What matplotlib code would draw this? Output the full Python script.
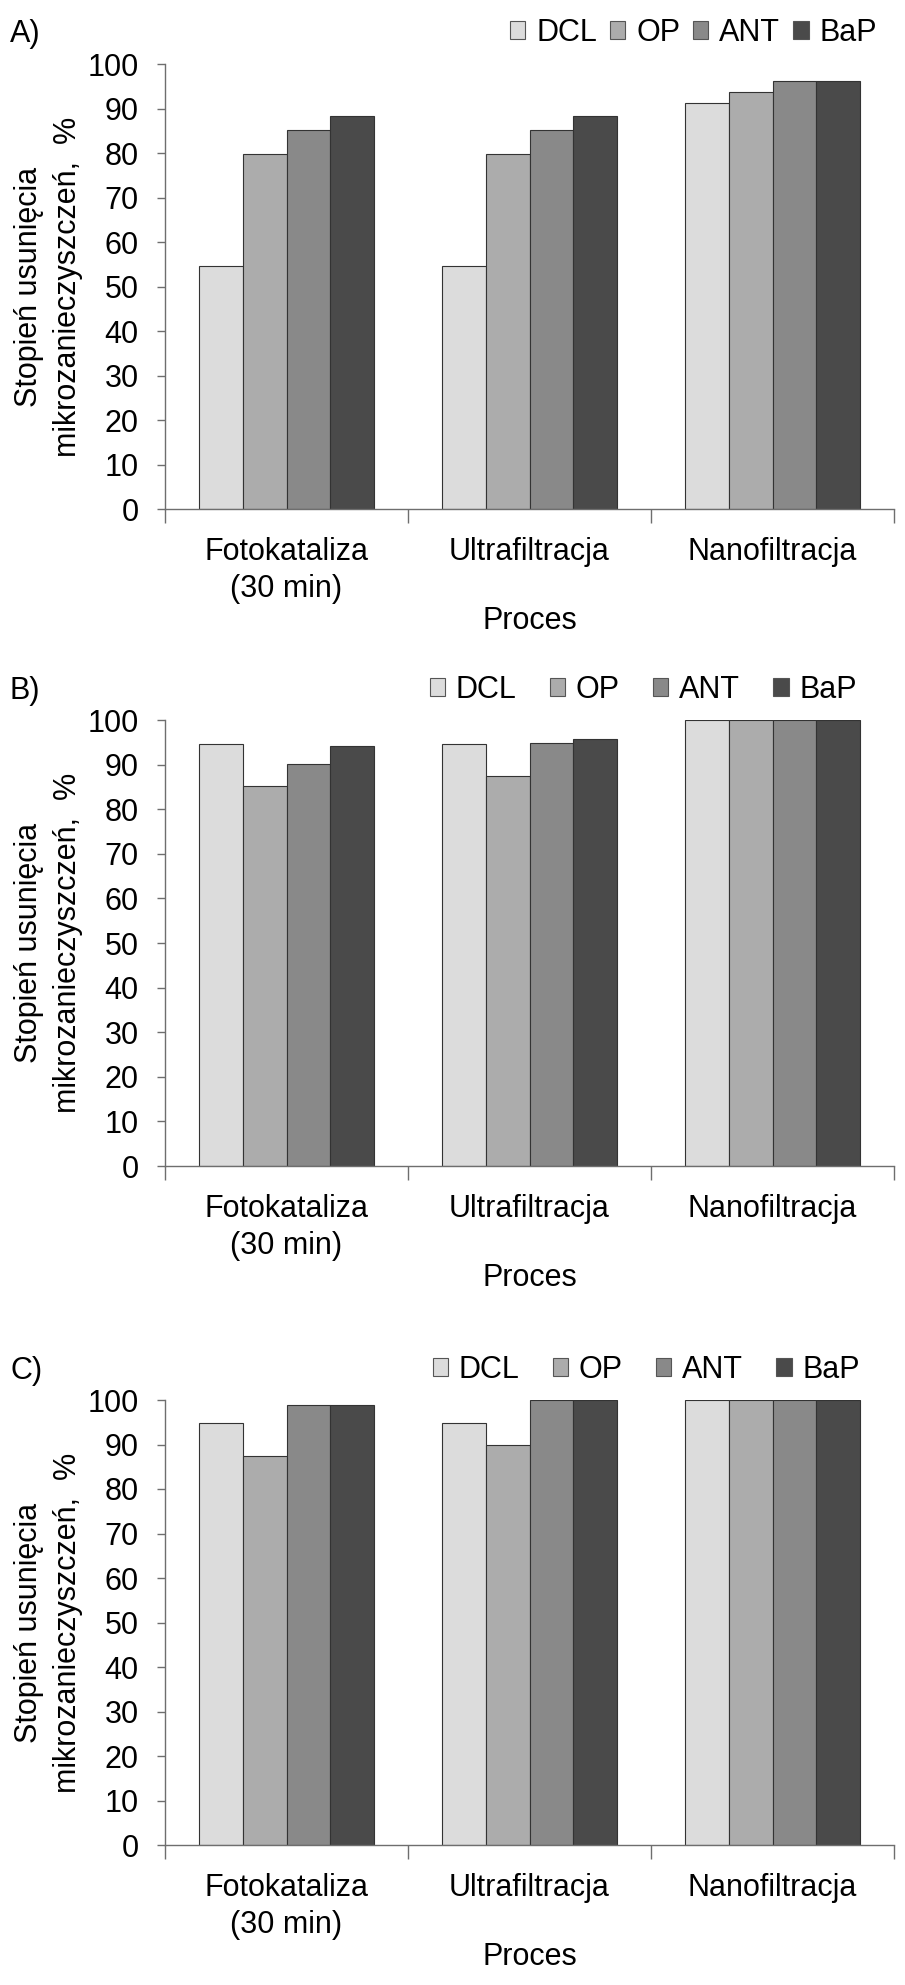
import matplotlib
matplotlib.use('Agg')
import matplotlib.pyplot as plt
import numpy as np
from matplotlib.patches import Patch

plt.rcParams['font.family'] = ['Liberation Sans', 'DejaVu Sans']

# Data
processes = ['Fotokataliza\n(30 min)', 'Ultrafiltracja', 'Nanofiltracja']
compounds = ['DCL', 'OP', 'ANT', 'BaP']
colors = ['#dcdcdc', '#acacac', '#898989', '#4a4a4a']

# panel A
dcl_a = [54.7, 54.7, 91.3]
op_a = [79.7, 79.7, 93.7]
ant_a = [85.2, 85.2, 96.1]
bap_a = [88.3, 88.3, 96.1]
# panel B
dcl_b = [94.6, 94.6, 100]
op_b = [85.3, 87.5, 100]
ant_b = [90.2, 94.9, 100]
bap_b = [94.1, 95.7, 100]
# panel C
dcl_c = [94.9, 94.9, 100]
op_c = [87.5, 90.0, 100]
ant_c = [98.8, 100, 100]
bap_c = [98.9, 100, 100]

panels = [
    ('A)', [dcl_a, op_a, ant_a, bap_a]),
    ('B)', [dcl_b, op_b, ant_b, bap_b]),
    ('C)', [dcl_c, op_c, ant_c, bap_c]),
]

W, H = 905, 1985
fig = plt.figure(figsize=(W / 100, H / 100), dpi=100)

fs = 22
ax_left, ax_right = 165, 894
tops = [64, 720, 1400]       # y pixel of 100
bottoms = [509, 1166, 1845]  # y pixel of 0
leg_y = [33, 689.5, 1369.5]
leg_x = [877, 857, 860]
leg_colsp = [0.42, 1.08, 1.08]
spine_col = '#6e6e6e'

x = np.arange(len(processes))
bw = 0.181

for i, (tag, series) in enumerate(panels):
    top, bot = tops[i], bottoms[i]
    ax = fig.add_axes([ax_left / W, 1 - bot / H,
                       (ax_right - ax_left) / W, (bot - top) / H])
    for j, vals in enumerate(series):
        ax.bar(x + (j - 1.5) * bw, vals, width=bw, color=colors[j],
               edgecolor='#333333', linewidth=0.8, zorder=2)

    ax.set_xlim(-0.5, 2.5)
    ax.set_ylim(0, 100)
    ax.set_yticks(range(0, 101, 10))
    ax.tick_params(axis='y', labelsize=fs, length=6, width=1,
                   color=spine_col, pad=13)
    ax.set_xticks(x)
    ax.set_xticklabels(processes, fontsize=fs, linespacing=1.33)
    ax.tick_params(axis='x', which='major', length=0, pad=20)
    ax.set_xticks([-0.5, 0.5, 1.5, 2.5], minor=True)
    ax.tick_params(axis='x', which='minor', length=10, width=1,
                   color=spine_col, direction='out')
    for s in ['top', 'right']:
        ax.spines[s].set_visible(False)
    for s in ['left', 'bottom']:
        ax.spines[s].set_color(spine_col)
        ax.spines[s].set_linewidth(1)

    ax.set_xlabel('Proces', fontsize=fs)
    ax.xaxis.label.set_va('center')
    ax.xaxis.set_label_coords(0.5, -112 / (bot - top))

    # y label (two lines)
    fig.text(48.5 / W, 1 - (top + bot) / 2 / H,
             'Stopień usunięcia\nmikrozanieczyszczeń,  %',
             rotation=90, ha='center', va='center', fontsize=fs,
             linespacing=1.38, multialignment='center')

    # panel tag
    fig.text(10 / W, 1 - (leg_y[i] + 1) / H, tag, ha='left', va='center',
             fontsize=fs)

    handles = [Patch(facecolor=c, edgecolor='#555555', linewidth=0.8)
               for c in colors]
    fig.legend(handles, compounds, loc='center right',
               bbox_to_anchor=(leg_x[i] / W, 1 - leg_y[i] / H),
               ncol=4, frameon=False, fontsize=fs, handlelength=0.5,
               handleheight=0.53, handletextpad=0.36,
               columnspacing=leg_colsp[i], borderpad=0, borderaxespad=0)

fig.savefig('out.png', dpi=100)
